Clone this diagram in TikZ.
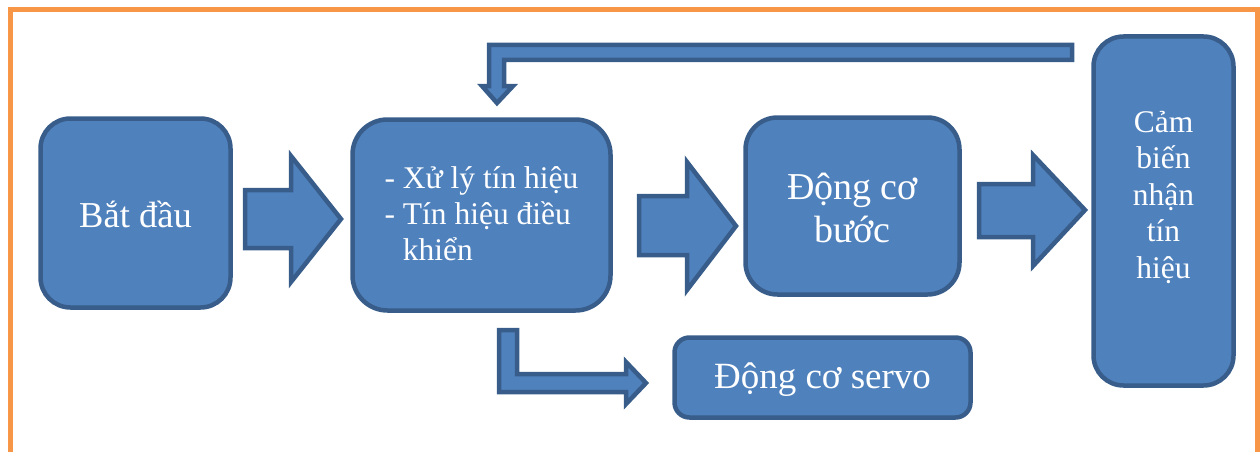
\documentclass[tikz,border=0pt]{standalone}
\usepackage{fontspec}
\setmainfont{Liberation Serif}
\definecolor{boxfill}{HTML}{4F81BD}
\definecolor{boxline}{HTML}{385D8A}
\definecolor{frameor}{HTML}{F79646}
\begin{document}
\begin{tikzpicture}[x=1pt,y=-1pt,
  blk/.style={draw=boxline,fill=boxfill,line width=4.5pt,rounded corners=#1,inner sep=0pt},
  txt/.style={text=white,align=center,inner sep=0pt},
  barrow/.style={draw=boxline,fill=boxfill,line width=4.5pt,line join=miter}]
\useasboundingbox (0,0) rectangle (1260,452);
\draw[frameor,line width=5pt] (10,470) -- (10,10) -- (1257,10) -- (1257,470);
% boxes
\node[blk=30pt,minimum width=190pt,minimum height=189pt] (start) at (135.5,213) {};
\node[blk=35pt,minimum width=258pt,minimum height=191pt] (proc) at (481.5,215) {};
\node[blk=32pt,minimum width=214pt,minimum height=177pt] (step) at (852.5,206) {};
\node[blk=30pt,minimum width=140pt,minimum height=349pt] (sens) at (1163.5,211) {};
\node[blk=15pt,minimum width=296pt,minimum height=80pt] (servo) at (822.5,377.5) {};
% texts
\node[txt,font=\fontsize{36.5}{40}\selectfont] (tstart) at ([yshift=-1pt]start.center) {Bắt đầu};
\node[txt,font=\fontsize{31.5}{36}\selectfont] (tproc) at ([yshift=-2pt]proc.center) {\begin{tabular}{@{}l@{\ }l@{}}-&Xử lý tín hiệu\\-&Tín hiệu điều\\&khiển\end{tabular}};
\node[txt,font=\fontsize{38}{43}\selectfont] (tstep) at ([yshift=-2pt]step.center) {Động cơ\\bước};
\node[txt,font=\fontsize{31.5}{36.5}\selectfont] (tsens) at ([yshift=14pt]sens.center) {Cảm\\biến\\nhận\\tín\\hiệu};
\node[txt,font=\fontsize{37}{40}\selectfont] (tservo) at ([yshift=-2pt]servo.center) {Động cơ servo};
% block arrows
\draw[barrow] (245,190) -- (291,190) -- (291,156) -- (341,219) -- (291,282) -- (291,248) -- (245,248) -- cycle;
\draw[barrow] (639,196) -- (687,196) -- (687,162) -- (736,226) -- (687,290) -- (687,255) -- (639,255) -- cycle;
\draw[barrow] (979,184) -- (1033,184) -- (1033,155) -- (1085,210) -- (1033,266) -- (1033,237) -- (979,237) -- cycle;
\draw[barrow] (1072,45) -- (489,45) -- (489,86) -- (482,86) -- (497,103) -- (513,86) -- (504,86) -- (504,60) -- (1072,60) -- cycle;
\draw[barrow] (499,330) -- (517,330) -- (517,374) -- (626,374) -- (626,362) -- (646,383) -- (626,404) -- (626,392) -- (499,392) -- cycle;
\end{tikzpicture}
\end{document}
